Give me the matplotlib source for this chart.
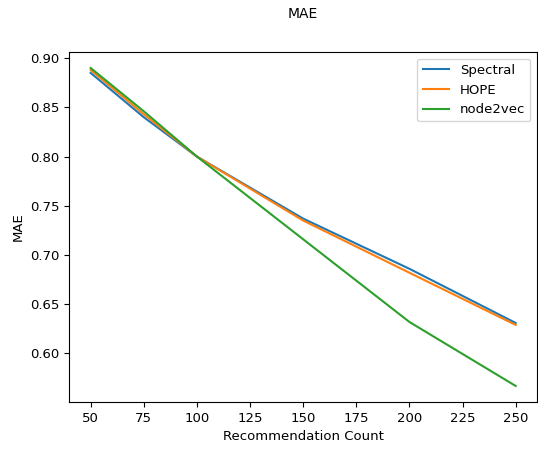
import matplotlib
matplotlib.use("Agg")
import matplotlib.pyplot as plt

rec_count = [50, 75, 100, 150, 200, 250]
spectral = [0.885, 0.840, 0.800, 0.737, 0.686, 0.631]
hope = [0.888, 0.843, 0.800, 0.735, 0.682, 0.629]
node2vec = [0.890, 0.846, 0.800, 0.716, 0.632, 0.567]

plt.rcParams["font.size"] = 9.5

fig = plt.figure(figsize=(5.38, 4.49), dpi=100)
ax = fig.add_axes([0.129, 0.105, 0.869, 0.779])

ax.plot(rec_count, spectral, label="Spectral", color="#1f77b4", linewidth=1.5)
ax.plot(rec_count, hope, label="HOPE", color="#ff7f0e", linewidth=1.5)
ax.plot(rec_count, node2vec, label="node2vec", color="#2ca02c", linewidth=1.5)

ax.set_xlabel("Recommendation Count")
ax.set_ylabel("MAE")
ax.legend(loc="upper right")

fig.suptitle("MAE", x=0.563, y=0.985, fontsize=10)
fig.savefig("out.png", dpi=100)
